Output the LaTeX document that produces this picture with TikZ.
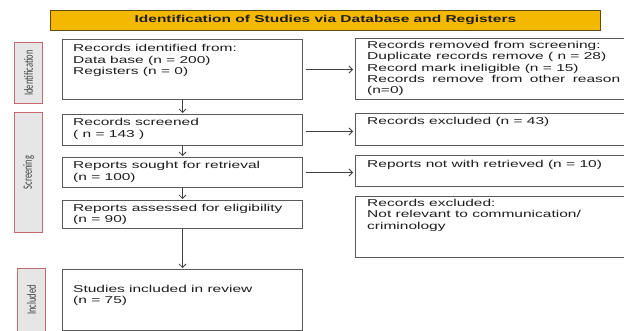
\documentclass[tikz,border=0pt]{standalone}
\usepackage{fontspec}
\setmainfont{Liberation Sans}[FakeStretch=1.55]
\newfontfamily\lblfont{Carlito}
\usetikzlibrary{arrows.meta,calc}
\definecolor{titlefill}{HTML}{F5B800}
\definecolor{titleedge}{HTML}{5C4A14}
\definecolor{lblfill}{HTML}{E6E6E6}
\definecolor{lbledge}{HTML}{C46872}
\definecolor{boxedge}{HTML}{5A5A5A}
\definecolor{ink}{HTML}{1E1E1E}
\begin{document}
\begin{tikzpicture}[x=1pt,y=-1pt,
  box/.style={draw=boxedge, line width=1pt, anchor=north west, inner sep=0pt},
  lbl/.style={draw=lbledge, fill=lblfill, line width=1pt, anchor=north west, inner sep=0pt, minimum width=28pt},
  lbltext/.style={rotate=90, inner sep=0pt, text=ink!85, font=\lblfont\fontsize{8.5}{9}\selectfont},
  txt/.style={anchor=base west, inner sep=0pt, text=ink, font=\fontsize{10}{11.3}\selectfont},
  arr/.style={draw=ink!85, line width=0.8pt, -{Straight Barb[length=3.5pt,width=7pt]}},
]
\clip (0,0) rectangle (624,331);
\fill[white] (0,0) rectangle (624,331);

% title
\node[draw=titleedge, fill=titlefill, line width=0.8pt, anchor=north west, inner sep=0pt,
      minimum width=550pt, minimum height=20pt, text=ink,
      font=\bfseries\fontsize{10}{12}\selectfont] (title) at (50,10)
      {Identification of Studies via Database and Registers};

% side labels
\node[lbl, minimum height=61pt] (l1) at (14,42) {};
\node[lbl, minimum height=120pt] (l2) at (14,112) {};
\node[lbl, minimum height=70pt] (l3) at (17,268) {};
\node[lbltext] (l1t) at (l1.center) {\scalebox{1}[1.5]{Identification}};
\node[lbltext] (l2t) at (l2.center) {\scalebox{1}[1.5]{Screening}};
\node[lbltext] (l3t) at ($(l3.north)!0.45!(l3.south)$) {\scalebox{1}[1.5]{Included}};

% left boxes
\node[box, minimum width=240pt, minimum height=60pt] (b1) at (62,39) {};
\node[box, minimum width=240pt, minimum height=31pt] (b2) at (62,114) {};
\node[box, minimum width=240pt, minimum height=30pt] (b3) at (62,157) {};
\node[box, minimum width=240pt, minimum height=28pt] (b4) at (62,200) {};
\node[box, minimum width=240pt, minimum height=61pt] (b5) at (62,269) {};

% right boxes
\node[box, minimum width=275pt, minimum height=61pt] (r1) at (355,38) {};
\node[box, minimum width=275pt, minimum height=32pt] (r2) at (355,113) {};
\node[box, minimum width=275pt, minimum height=31pt] (r3) at (355,155) {};
\node[box, minimum width=275pt, minimum height=61pt] (r4) at (355,196) {};

% texts
\node[txt] (b1t) at ($(b1.north west)+(11,13)$) {\parbox[t]{280pt}{Records identified from:\\Data base (n = 200)\\Registers (n = 0)}};
\node[txt] (b2t) at ($(b2.north west)+(11,12)$) {\parbox[t]{280pt}{Records screened\\( n = 143 )}};
\node[txt] (b3t) at ($(b3.north west)+(11,12)$) {\parbox[t]{280pt}{Reports sought for retrieval\\(n = 100)}};
\node[txt] (b4t) at ($(b4.north west)+(11,11.5)$) {\parbox[t]{280pt}{Reports assessed for eligibility\\(n = 90)}};
\node[txt] (b5t) at ($(b5.north west)+(11,23.5)$) {\parbox[t]{280pt}{Studies included in review\\(n = 75)}};

\node[txt] (r1t) at ($(r1.north west)+(12,10.5)$) {\parbox[t]{280pt}{Records removed from screening:\\Duplicate records remove ( n = 28)\\Record mark ineligible (n = 15)\\\hbox to 253pt{Records\hfill remove\hfill from\hfill other\hfill reason}\\(n=0)}};
\node[txt] (r2t) at ($(r2.north west)+(12,11.5)$) {Records excluded (n = 43)};
\node[txt] (r3t) at ($(r3.north west)+(12,12.5)$) {Reports not with retrieved (n = 10)};
\node[txt] (r4t) at ($(r4.north west)+(12,10.5)$) {\parbox[t]{280pt}{Records excluded:\\Not relevant to communication/\\criminology}};

% arrows
\draw[arr, shorten >=1pt] (b1.south) -- (b2.north);
\draw[arr, shorten >=1pt] (b2.south) -- (b3.north);
\draw[arr, shorten >=1pt] (b3.south) -- (b4.north);
\draw[arr, shorten >=1pt] (b4.south) -- (b5.north);
\draw[arr, shorten <=3pt, shorten >=2pt] (b1.east) -- (b1.east -| r1.west);
\draw[arr, shorten <=3pt, shorten >=2pt] ($(b2.east)+(0,1.5)$) -- ($(b2.east -| r2.west)+(0,1.5)$);
\draw[arr, shorten <=3pt, shorten >=2pt] (b3.east) -- (b3.east -| r3.west);
\end{tikzpicture}
\end{document}
